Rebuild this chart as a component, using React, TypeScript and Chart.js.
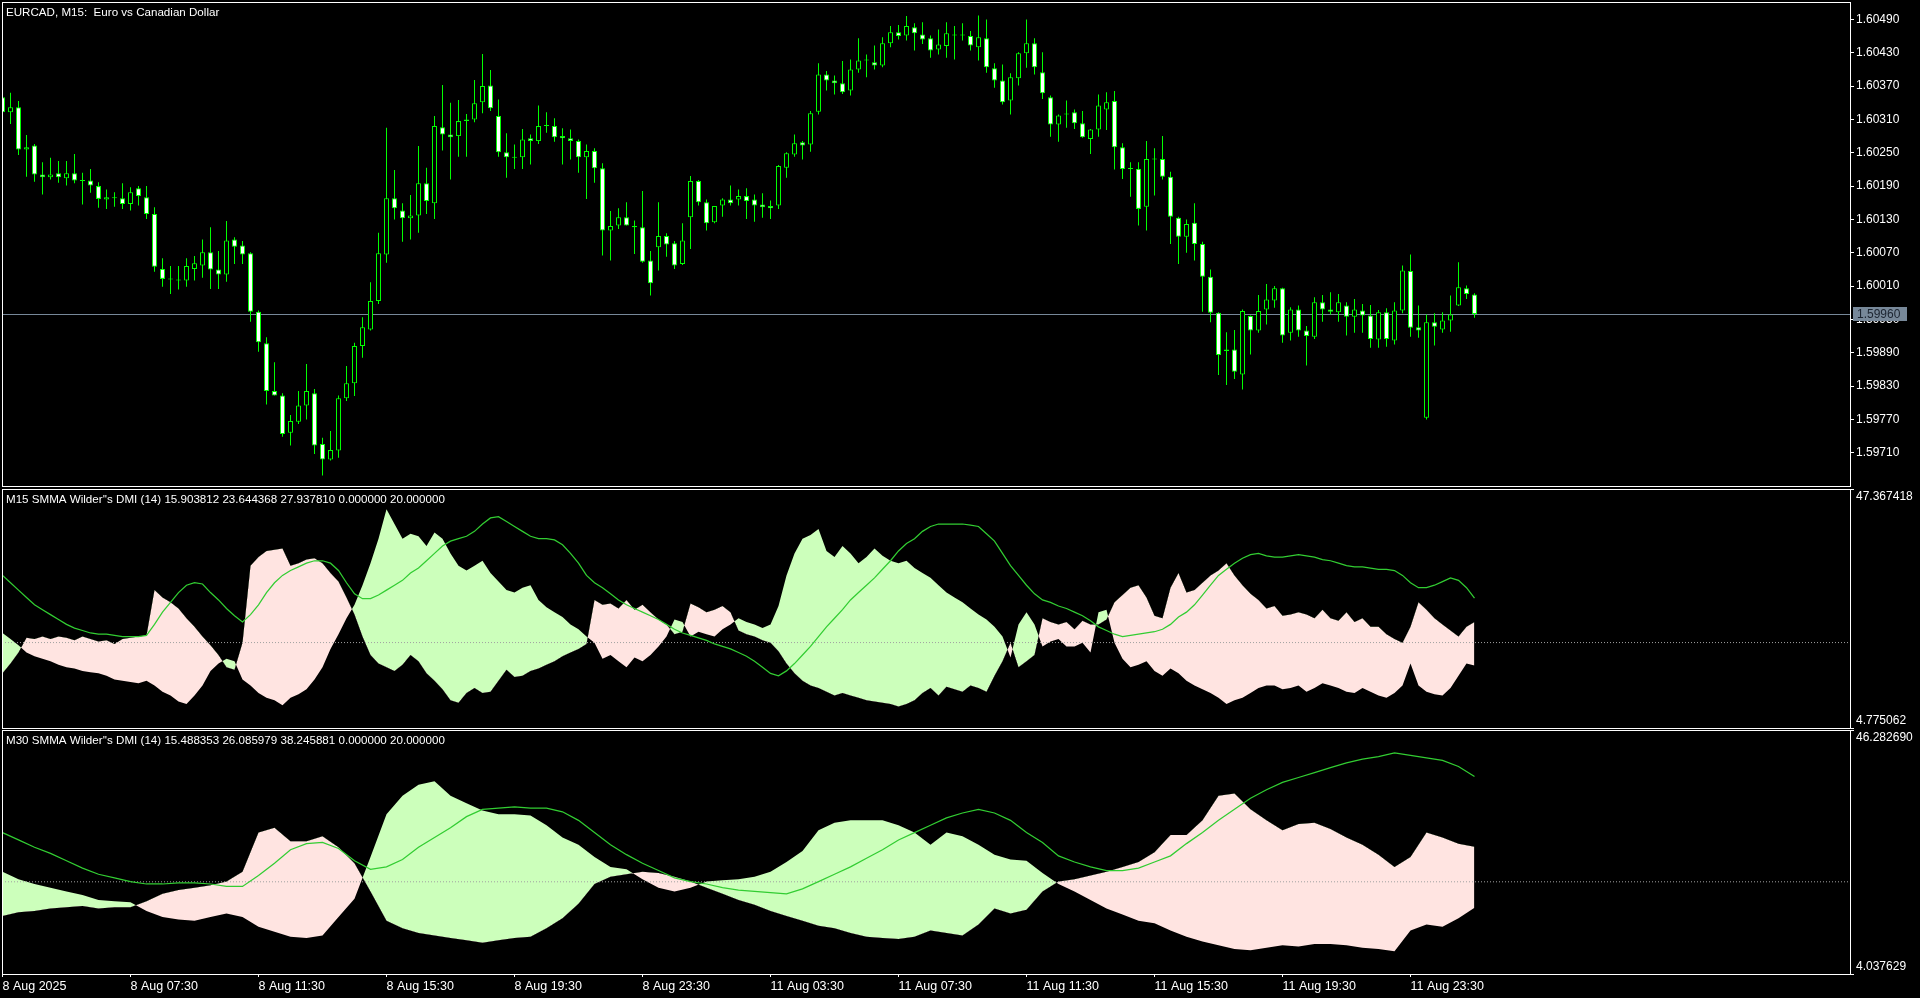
import React, { useEffect, useRef } from 'react';
import { Chart, registerables } from 'chart.js';

Chart.register(...registerables);

const FONT = "'Liberation Sans', Arial, sans-serif";
const LIME = '#00ff00';
const X_MIN = -0.0625;
const X_MAX = 230.9375;

// ---------- EURCAD M15 candles ----------
const opens = [1.60350,1.60323,1.60332,1.60256,1.60263,1.60211,1.60206,1.60213,1.60204,1.60213,1.60200,1.60200,1.60190,1.60166,1.60170,1.60168,1.60158,1.60186,1.60170,1.60140,1.60041,1.60023,1.60022,1.60020,1.60041,1.60047,1.60071,1.60040,1.60031,1.60094,1.60083,1.60069,1.59964,1.59907,1.59821,1.59813,1.59746,1.59766,1.59795,1.59817,1.59726,1.59698,1.59714,1.59808,1.59835,1.59902,1.59932,1.59983,1.60067,1.60168,1.60146,1.60132,1.60137,1.60195,1.60159,1.60296,1.60283,1.60280,1.60307,1.60310,1.60341,1.60371,1.60316,1.60251,1.60242,1.60242,1.60276,1.60271,1.60298,1.60298,1.60280,1.60276,1.60271,1.60242,1.60253,1.60222,1.60110,1.60119,1.60134,1.60118,1.60116,1.60056,1.60080,1.60100,1.60087,1.60050,1.60134,1.60199,1.60161,1.60125,1.60155,1.60166,1.60166,1.60172,1.60166,1.60157,1.60154,1.60155,1.60223,1.60247,1.60269,1.60265,1.60324,1.60391,1.60380,1.60375,1.60362,1.60400,1.60416,1.60413,1.60407,1.60447,1.60467,1.60461,1.60476,1.60463,1.60456,1.60436,1.60442,1.60463,1.60461,1.60460,1.60440,1.60456,1.60402,1.60380,1.60344,1.60384,1.60429,1.60447,1.60395,1.60350,1.60301,1.60320,1.60323,1.60303,1.60275,1.60292,1.60328,1.60343,1.60260,1.60221,1.60221,1.60153,1.60239,1.60239,1.60207,1.60133,1.60099,1.60124,1.60086,1.60027,1.59962,1.59893,1.59896,1.59851,1.59956,1.59930,1.59968,1.59984,1.60006,1.59926,1.59968,1.59930,1.59919,1.59981,1.59968,1.59963,1.59975,1.59955,1.59966,1.59957,1.59914,1.59963,1.59912,1.59966,1.60037,1.59936,1.59773,1.59945,1.59932,1.59948,1.59975,1.60006,1.59995];
const highs = [1.60354,1.60358,1.60343,1.60282,1.60266,1.60233,1.60241,1.60235,1.60235,1.60248,1.60214,1.60221,1.60197,1.60184,1.60179,1.60195,1.60188,1.60190,1.60190,1.60152,1.60060,1.60046,1.60046,1.60060,1.60064,1.60094,1.60116,1.60073,1.60127,1.60098,1.60091,1.60071,1.59966,1.59918,1.59873,1.59817,1.59778,1.59821,1.59870,1.59825,1.59737,1.59749,1.59813,1.59866,1.59908,1.59954,1.60017,1.60106,1.60295,1.60219,1.60159,1.60174,1.60262,1.60223,1.60316,1.60372,1.60340,1.60345,1.60320,1.60381,1.60428,1.60399,1.60346,1.60285,1.60265,1.60293,1.60283,1.60335,1.60323,1.60312,1.60294,1.60292,1.60274,1.60265,1.60258,1.60231,1.60145,1.60150,1.60161,1.60128,1.60181,1.60073,1.60161,1.60105,1.60091,1.60123,1.60208,1.60201,1.60166,1.60154,1.60168,1.60191,1.60184,1.60186,1.60175,1.60177,1.60164,1.60228,1.60251,1.60283,1.60271,1.60325,1.60411,1.60397,1.60389,1.60415,1.60418,1.60456,1.60427,1.60443,1.60458,1.60478,1.60480,1.60496,1.60483,1.60485,1.60461,1.60472,1.60485,1.60478,1.60483,1.60469,1.60497,1.60490,1.60411,1.60409,1.60393,1.60431,1.60490,1.60456,1.60431,1.60353,1.60319,1.60344,1.60328,1.60325,1.60293,1.60355,1.60359,1.60361,1.60267,1.60233,1.60233,1.60271,1.60258,1.60280,1.60216,1.60135,1.60130,1.60159,1.60090,1.60040,1.59963,1.59927,1.59931,1.59968,1.59957,1.59994,1.60014,1.60010,1.60007,1.59972,1.59975,1.59938,1.59990,1.59994,1.59999,1.59996,1.59981,1.59987,1.59978,1.59976,1.59967,1.59970,1.59981,1.60047,1.60067,1.59975,1.59959,1.59961,1.59963,1.59993,1.60053,1.60011,1.59997];
const lows = [1.60318,1.60302,1.60246,1.60207,1.60198,1.60175,1.60202,1.60196,1.60191,1.60195,1.60157,1.60178,1.60151,1.60149,1.60153,1.60149,1.60146,1.60155,1.60131,1.60036,1.60009,1.59996,1.60004,1.60009,1.60020,1.60025,1.60005,1.60005,1.60018,1.60050,1.60050,1.59946,1.59892,1.59797,1.59813,1.59739,1.59723,1.59762,1.59770,1.59708,1.59669,1.59696,1.59701,1.59803,1.59812,1.59881,1.59930,1.59978,1.60052,1.60130,1.60090,1.60094,1.60106,1.60140,1.60131,1.60254,1.60202,1.60243,1.60243,1.60305,1.60321,1.60325,1.60243,1.60205,1.60221,1.60221,1.60229,1.60266,1.60286,1.60270,1.60229,1.60238,1.60214,1.60167,1.60196,1.60065,1.60056,1.60113,1.60119,1.60068,1.60052,1.59993,1.60038,1.60063,1.60041,1.60048,1.60077,1.60155,1.60110,1.60123,1.60135,1.60155,1.60155,1.60131,1.60126,1.60133,1.60131,1.60149,1.60205,1.60243,1.60238,1.60252,1.60319,1.60362,1.60355,1.60356,1.60353,1.60394,1.60386,1.60400,1.60404,1.60440,1.60454,1.60452,1.60434,1.60446,1.60421,1.60427,1.60421,1.60418,1.60452,1.60434,1.60416,1.60394,1.60367,1.60337,1.60319,1.60371,1.60403,1.60391,1.60347,1.60279,1.60270,1.60295,1.60293,1.60277,1.60248,1.60279,1.60291,1.60220,1.60203,1.60171,1.60119,1.60110,1.60173,1.60202,1.60086,1.60050,1.60070,1.60056,1.59964,1.59945,1.59850,1.59832,1.59843,1.59824,1.59887,1.59926,1.59941,1.59971,1.59908,1.59912,1.59919,1.59867,1.59915,1.59946,1.59959,1.59946,1.59921,1.59926,1.59926,1.59899,1.59899,1.59901,1.59905,1.59961,1.59919,1.59917,1.59770,1.59903,1.59926,1.59928,1.59974,1.59987,1.59953];
const closes = [1.60323,1.60332,1.60256,1.60260,1.60211,1.60206,1.60211,1.60206,1.60213,1.60200,1.60199,1.60191,1.60167,1.60170,1.60168,1.60158,1.60179,1.60172,1.60140,1.60045,1.60023,1.60022,1.60020,1.60046,1.60051,1.60071,1.60040,1.60031,1.60092,1.60081,1.60067,1.59964,1.59909,1.59821,1.59813,1.59744,1.59767,1.59795,1.59821,1.59723,1.59698,1.59715,1.59808,1.59835,1.59902,1.59936,1.59983,1.60069,1.60168,1.60150,1.60132,1.60137,1.60195,1.60163,1.60298,1.60283,1.60278,1.60307,1.60310,1.60339,1.60370,1.60330,1.60251,1.60242,1.60241,1.60274,1.60271,1.60298,1.60298,1.60278,1.60276,1.60271,1.60242,1.60253,1.60222,1.60110,1.60118,1.60134,1.60119,1.60116,1.60054,1.60015,1.60100,1.60085,1.60047,1.60092,1.60199,1.60161,1.60123,1.60154,1.60166,1.60159,1.60172,1.60163,1.60155,1.60152,1.60150,1.60226,1.60249,1.60267,1.60263,1.60321,1.60391,1.60380,1.60375,1.60359,1.60400,1.60416,1.60418,1.60407,1.60447,1.60467,1.60460,1.60478,1.60465,1.60454,1.60434,1.60445,1.60465,1.60461,1.60461,1.60443,1.60458,1.60404,1.60380,1.60341,1.60386,1.60429,1.60447,1.60404,1.60357,1.60301,1.60317,1.60319,1.60303,1.60278,1.60292,1.60335,1.60341,1.60260,1.60221,1.60221,1.60149,1.60239,1.60238,1.60207,1.60135,1.60099,1.60122,1.60086,1.60027,1.59962,1.59886,1.59896,1.59856,1.59965,1.59930,1.59965,1.59986,1.60006,1.59921,1.59968,1.59930,1.59920,1.59981,1.59968,1.59964,1.59981,1.59955,1.59968,1.59957,1.59915,1.59963,1.59915,1.59966,1.60038,1.59935,1.59930,1.59945,1.59937,1.59948,1.59959,1.60008,1.59996,1.59960];

const priceTicks = [1.6049, 1.6043, 1.6037, 1.6031, 1.6025, 1.6019, 1.6013, 1.6007, 1.6001, 1.5995, 1.5989, 1.5983, 1.5977, 1.5971];
const priceMin = 1.596502;
const priceMax = 1.605214;

const timeTickBars = [0, 16, 32, 48, 64, 80, 96, 112, 128, 144, 160, 176];
const timeTickLabels = ['8 Aug 2025', '8 Aug 07:30', '8 Aug 11:30', '8 Aug 15:30', '8 Aug 19:30', '8 Aug 23:30', '11 Aug 03:30', '11 Aug 07:30', '11 Aug 11:30', '11 Aug 15:30', '11 Aug 19:30', '11 Aug 23:30'];

// ---------- M15 DMI (one value per chart bar) ----------
const m15Plus = [
  21.71,20.62,19.53,18.22,17.57,17.13,16.69,16.04,15.60,15.38,
  14.95,14.73,14.51,14.07,13.42,13.20,12.98,12.77,13.20,12.33,
  11.24,10.58,9.49,9.05,10.58,12.33,14.95,16.26,17.13,16.69,
  13.42,12.33,11.02,10.15,9.71,8.84,10.15,10.80,11.67,13.42,
  15.60,18.87,21.49,24.33,26.73,30.22,34.15,38.51,43.75,41.13,
  38.51,39.38,38.95,37.20,39.60,38.51,35.89,33.71,32.84,33.71,
  34.58,32.40,30.87,29.35,28.91,29.78,30.22,27.60,26.29,25.42,
  24.55,23.24,22.37,21.06,19.97,17.13,17.78,16.69,15.60,17.35,
  16.69,17.78,19.31,21.06,24.11,23.67,21.06,21.93,21.49,21.06,
  22.37,23.24,24.33,23.67,23.24,22.58,23.24,26.51,31.97,35.89,
  38.51,39.17,40.26,36.33,35.24,37.20,35.89,34.15,35.24,36.77,
  35.46,34.58,34.15,34.58,33.28,32.40,31.53,30.22,28.91,28.04,
  27.17,26.07,24.98,24.11,22.80,21.06,17.35,23.24,25.42,23.24,
  19.31,20.18,20.62,19.31,19.31,19.97,18.22,25.42,25.86,19.97,
  17.13,15.60,16.04,16.69,14.95,14.07,15.38,14.51,13.20,12.33,
  11.67,11.02,10.15,9.05,9.71,10.15,11.02,11.89,12.33,12.33,
  11.67,11.89,12.33,11.24,11.89,12.77,12.33,11.89,11.24,11.02,
  11.89,11.24,10.58,10.15,11.02,12.33,16.26,12.33,11.24,10.80,
  10.58,11.89,14.07,16.26,15.903812,
];
const m15Minus = [
  14.51,16.26,18.22,20.84,20.62,21.06,20.62,21.06,20.84,20.40,
  21.06,20.62,20.18,20.40,19.75,20.62,20.84,21.06,21.27,29.35,
  28.04,27.17,26.07,24.33,22.80,21.06,19.53,17.78,15.60,15.17,
  19.97,33.71,35.24,36.33,36.55,36.77,33.71,34.15,34.80,35.02,
  34.15,32.40,30.87,28.04,24.98,21.06,17.78,16.26,15.60,14.95,
  16.04,17.78,16.69,14.51,13.20,11.67,9.71,9.27,11.02,11.89,
  11.02,11.24,13.20,15.17,13.86,14.07,14.95,15.38,16.04,16.69,
  17.57,18.22,18.87,19.75,27.60,26.73,26.95,26.07,27.60,25.86,
  26.73,25.42,24.11,23.24,21.49,21.93,26.95,26.29,25.42,25.86,
  26.51,25.42,22.15,21.49,21.06,20.40,19.97,18.44,16.26,14.51,
  13.20,12.33,11.89,11.24,10.58,11.02,10.58,10.15,9.71,9.49,
  9.27,9.05,8.62,9.05,9.71,11.02,11.89,10.58,12.11,11.67,
  11.24,12.33,11.89,11.24,14.07,16.69,19.97,15.60,16.69,17.78,
  24.33,23.67,23.24,23.67,22.37,23.89,23.24,23.24,24.11,27.17,
  28.47,29.78,30.22,28.04,24.77,24.33,29.78,32.40,28.91,29.35,
  30.66,31.97,32.84,34.15,31.97,30.22,28.69,27.60,26.07,26.51,
  24.77,24.98,25.42,24.98,24.33,25.86,24.33,23.89,25.42,23.67,
  24.33,22.80,22.80,21.49,20.62,19.97,22.80,27.17,25.86,24.33,
  23.24,22.15,21.06,22.80,23.644368,
];
const m15Adx = [
  31.97,30.66,29.35,28.04,26.73,25.86,24.98,24.11,23.24,22.58,
  22.15,21.71,21.49,21.49,21.27,21.06,21.06,21.06,21.27,23.24,
  25.42,27.17,28.91,30.22,30.66,30.44,28.91,27.60,26.07,24.77,
  23.67,24.98,26.73,28.91,30.66,31.97,32.84,33.49,34.15,34.58,
  34.58,34.15,32.84,30.66,28.69,27.82,27.82,28.47,29.35,30.22,
  31.09,32.40,33.28,34.58,35.89,37.20,38.08,38.51,38.95,39.82,
  41.13,42.22,42.44,41.57,40.69,39.82,38.95,38.51,38.51,38.29,
  37.42,35.89,34.15,31.97,30.66,29.78,28.69,27.60,26.73,26.07,
  25.42,24.77,24.11,23.24,22.37,21.71,21.27,20.84,20.40,19.75,
  19.31,18.87,18.22,17.57,16.69,15.60,14.51,14.07,14.95,16.26,
  17.78,19.31,21.06,22.80,24.33,25.86,27.60,28.91,30.22,31.53,
  33.06,34.58,36.33,37.64,38.51,39.82,40.69,41.13,41.13,41.13,
  41.13,40.91,40.69,39.38,38.08,35.89,33.71,31.97,30.22,28.69,
  27.60,27.17,26.51,26.07,25.42,24.77,23.89,22.80,22.15,21.49,
  21.06,21.27,21.49,21.71,21.93,22.37,23.24,24.55,25.42,26.73,
  28.47,30.22,31.97,33.06,34.15,35.02,35.68,35.89,35.46,35.24,
  35.24,35.46,35.68,35.46,35.24,34.80,34.58,34.15,33.71,33.49,
  33.49,33.28,33.06,33.06,32.84,31.97,30.66,29.78,29.78,30.22,
  30.87,31.53,31.09,29.78,27.93781,
];
const m15Range = [4.775062, 47.367418];

// ---------- M30 DMI (one value per M30 bar = every second chart bar) ----------
const m30Bars = [0,2,4,6,8,10,12,14,16,18,20,22,24,26,28,30,32,34,36,38,40,42,44,46,48,50,52,54,56,58,60,62,64,66,68,70,72,74,76,78,80,82,84,86,88,90,92,94,96,98,100,102,104,106,108,110,112,114,116,118,120,122,124,126,128,130,132,134,136,138,140,142,144,146,148,150,152,154,156,158,160,162,164,166,168,170,172,174,176,178,180,182,184];
const m30Plus = [21.74,20.46,19.62,18.98,18.34,17.71,16.86,16.65,16.44,14.95,13.89,13.47,13.26,13.89,14.53,13.89,12.20,11.35,10.50,10.29,10.71,13.89,17.07,24.28,31.70,34.88,36.79,37.42,34.88,33.61,32.34,31.70,31.70,31.49,29.79,27.67,26.40,24.28,22.58,22.16,20.46,18.98,18.34,18.98,20.04,20.25,20.46,20.89,21.74,23.43,25.34,28.94,30.22,30.64,30.64,30.64,29.79,28.52,26.40,28.52,27.88,26.40,24.70,23.86,23.64,21.52,19.62,18.34,16.86,15.38,14.32,13.26,12.83,11.56,10.50,9.65,9.02,8.38,8.17,8.59,9.02,8.80,9.23,9.23,9.02,8.59,8.38,7.96,11.56,12.62,12.20,13.68,15.488353];
const m30Minus = [14.10,14.74,14.95,15.38,15.59,15.80,15.38,15.59,15.59,16.65,17.92,18.56,18.98,19.40,20.04,21.74,28.52,29.37,27.04,27.04,27.88,25.98,23.22,18.34,13.26,11.98,11.14,10.71,10.29,9.86,9.44,9.86,10.29,10.50,11.98,13.68,16.22,19.62,20.89,21.31,21.74,21.52,20.89,20.04,18.98,17.92,16.86,16.01,14.95,14.10,13.26,12.41,11.98,11.14,10.50,10.29,10.08,10.50,11.56,11.14,10.71,12.62,15.38,14.53,15.16,18.34,20.04,20.46,21.10,21.74,22.58,23.43,25.13,28.10,28.10,30.64,34.88,35.30,32.55,30.64,28.94,30.00,30.22,29.16,27.67,26.40,24.70,22.58,24.28,28.52,27.67,26.61,26.085979];
const m30Adx = [28.52,27.25,25.98,24.92,23.64,22.37,21.31,20.68,20.04,19.62,19.62,19.83,19.83,19.62,19.19,19.19,21.10,23.22,25.55,26.61,26.82,25.76,23.64,22.16,22.58,23.86,25.98,27.67,29.37,31.28,32.55,32.76,32.97,32.76,32.76,32.12,30.64,28.52,26.40,24.70,23.22,21.95,20.68,20.04,19.62,18.98,18.56,18.34,18.13,17.92,18.77,20.04,21.31,22.58,24.07,25.55,27.25,28.52,29.79,31.06,31.91,32.55,31.91,30.64,28.52,26.82,24.49,23.43,22.58,21.95,21.95,22.37,23.43,24.49,26.61,28.52,30.64,32.55,34.46,35.94,37.21,38.06,38.91,39.76,40.60,41.24,41.66,42.30,41.88,41.45,41.03,39.97,38.245881];
const m30Range = [4.037629, 46.28269];

const dmiLevel = 20;

const GREEN_FILL = 'rgb(204,255,187)';
const PINK_FILL = 'rgb(255,228,225)';
const ADX_COLOR = 'rgb(50,205,50)';

const framePlugin = {
  id: 'frame',
  afterDraw(chart: any) {
    const { ctx, chartArea: a } = chart;
    ctx.save();
    ctx.strokeStyle = '#ffffff';
    ctx.lineWidth = 1;
    ctx.strokeRect(Math.round(a.left) + 0.5, Math.round(a.top) + 0.5, Math.round(a.right - a.left), Math.round(a.bottom - a.top));
    ctx.restore();
  },
};

const cornerTitlePlugin = {
  id: 'cornerTitle',
  afterDraw(chart: any, _args: any, opts: any) {
    if (!opts || !opts.text) return;
    const { ctx, chartArea: a } = chart;
    ctx.save();
    ctx.fillStyle = '#ffffff';
    ctx.font = `11.6px ${FONT}`;
    ctx.textBaseline = 'alphabetic';
    ctx.textAlign = 'left';
    ctx.fillText(opts.text, a.left + 4, a.top + opts.dy);
    ctx.restore();
  },
};

const priceLinePlugin = {
  id: 'priceLine',
  beforeDatasetsDraw(chart: any) {
    const { ctx, chartArea: a, scales } = chart;
    const y = Math.round(scales.y.getPixelForValue(closes[closes.length - 1])) + 0.5;
    ctx.save();
    ctx.strokeStyle = '#778899';
    ctx.lineWidth = 1;
    ctx.beginPath();
    ctx.moveTo(a.left, y);
    ctx.lineTo(a.right, y);
    ctx.stroke();
    ctx.restore();
  },
  afterDraw(chart: any) {
    const { ctx, chartArea: a, scales } = chart;
    const last = closes[closes.length - 1];
    const y = Math.round(scales.y.getPixelForValue(last));
    ctx.save();
    ctx.fillStyle = '#778899';
    ctx.fillRect(a.right + 3, y - 7, 54, 14);
    ctx.fillStyle = '#1c2430';
    ctx.font = `12px ${FONT}`;
    ctx.textBaseline = 'middle';
    ctx.textAlign = 'left';
    ctx.fillText(last.toFixed(5), a.right + 7, y + 0.5);
    ctx.restore();
  },
};

function rightAxis(min: number, max: number, ticks: number[], fmt: (v: number, i: number) => any) {
  return {
    type: 'linear',
    position: 'right',
    min,
    max,
    offset: false,
    afterBuildTicks: (s: any) => {
      s.ticks = ticks.map((v) => ({ value: v }));
    },
    afterFit: (s: any) => {
      s.width = 70;
      s.paddingTop = 0;
      s.paddingBottom = 0;
    },
    ticks: {
      color: '#ffffff',
      font: { family: FONT, size: 12 },
      padding: 2,
      autoSkip: false,
      callback: (v: number, i: number) => fmt(v, i),
    },
    grid: { drawOnChartArea: false, drawTicks: true, tickLength: 4, color: '#ffffff', offset: false },
    border: { display: false },
  };
}

function hiddenX() {
  return { type: 'linear', min: X_MIN, max: X_MAX, display: false, offset: false, bounds: 'data', grid: { offset: false } };
}

function mainConfig(): any {
  const idx = closes.map((_, i) => i);
  return {
    type: 'bar',
    data: {
      datasets: [
        {
          label: 'wick',
          data: idx.map((i) => ({ x: i, y: [lows[i], highs[i]] })),
          backgroundColor: LIME,
          borderWidth: 0,
          barThickness: 1,
          grouped: false,
          inflateAmount: 0,
          order: 2,
        },
        {
          label: 'body',
          data: idx.map((i) => ({ x: i, y: [Math.min(opens[i], closes[i]), Math.max(opens[i], closes[i])] })),
          backgroundColor: idx.map((i) => (closes[i] < opens[i] ? '#ffffff' : '#000000')),
          borderColor: LIME,
          borderWidth: 1,
          borderSkipped: false,
          barThickness: 5,
          minBarLength: 1,
          grouped: false,
          inflateAmount: 0,
          order: 1,
        },
      ],
    },
    options: {
      responsive: false,
      animation: false,
      devicePixelRatio: 1,
      events: [],
      layout: { padding: { left: 2, right: 0, top: 2, bottom: 2 } },
      plugins: {
        legend: { display: false },
        tooltip: { enabled: false },
        cornerTitle: { text: 'EURCAD, M15:  Euro vs Canadian Dollar', dy: 14 },
      },
      scales: {
        x: hiddenX(),
        y: rightAxis(priceMin, priceMax, priceTicks, (v) => Number(v).toFixed(5)),
      },
    },
    plugins: [priceLinePlugin, framePlugin, cornerTitlePlugin],
  };
}

function dmiConfig(bars: number[], plus: number[], minus: number[], adx: number[], range: number[], title: string, withX: boolean): any {
  const pts = (arr: number[]) => bars.map((b, k) => ({ x: b, y: arr[k] }));
  const fmt = (v: number, i: number) => (i === 0 ? ['', range[1].toFixed(6)] : [range[0].toFixed(6), '']);
  const xScale: any = withX
    ? {
        type: 'linear',
        min: X_MIN,
        max: X_MAX,
        offset: false,
        position: 'bottom',
        afterBuildTicks: (s: any) => {
          s.ticks = timeTickBars.map((v) => ({ value: v }));
        },
        afterFit: (s: any) => {
          s.height = 24;
          s.paddingLeft = 0;
          s.paddingRight = 0;
        },
        ticks: {
          color: '#ffffff',
          font: { family: FONT, size: 12.5 },
          align: 'start',
          autoSkip: false,
          maxRotation: 0,
          minRotation: 0,
          padding: 2,
          callback: (_v: number, i: number) => timeTickLabels[i],
        },
        grid: { drawOnChartArea: false, drawTicks: true, tickLength: 3, color: '#ffffff' },
        border: { display: false },
      }
    : hiddenX();
  return {
    type: 'line',
    data: {
      datasets: [
        {
          label: '+DI',
          data: pts(plus),
          borderColor: 'rgba(0,0,0,0)',
          borderWidth: 0,
          pointRadius: 0,
          fill: { target: 1, above: GREEN_FILL, below: PINK_FILL },
          order: 3,
        },
        {
          label: '-DI',
          data: pts(minus),
          borderColor: 'rgba(0,0,0,0)',
          borderWidth: 0,
          pointRadius: 0,
          fill: false,
          order: 4,
        },
        {
          label: 'level',
          data: [
            { x: X_MIN, y: dmiLevel },
            { x: X_MAX, y: dmiLevel },
          ],
          borderColor: '#a0a0a0',
          borderWidth: 1,
          borderDash: [1, 2],
          pointRadius: 0,
          fill: false,
          order: 2,
        },
        {
          label: 'ADX',
          data: pts(adx),
          borderColor: ADX_COLOR,
          borderWidth: 1.25,
          pointRadius: 0,
          fill: false,
          order: 1,
        },
      ],
    },
    options: {
      responsive: false,
      animation: false,
      devicePixelRatio: 1,
      events: [],
      layout: { padding: { left: 2, right: 0, top: 1, bottom: withX ? 0 : 1 } },
      plugins: {
        legend: { display: false },
        tooltip: { enabled: false },
        cornerTitle: { text: title, dy: 14 },
      },
      scales: {
        x: xScale,
        y: rightAxis(range[0], range[1], [range[1], range[0]], fmt),
      },
    },
    plugins: [framePlugin, cornerTitlePlugin],
  };
}

export default function App() {
  const refA = useRef<HTMLCanvasElement>(null);
  const refB = useRef<HTMLCanvasElement>(null);
  const refC = useRef<HTMLCanvasElement>(null);

  useEffect(() => {
    document.body.style.margin = '0';
    document.body.style.background = '#000';
    document.body.style.overflow = 'hidden';
    const m15Bars = m15Plus.map((_, i) => i);
    const a = new Chart(refA.current as any, mainConfig());
    const b = new Chart(
      refB.current as any,
      dmiConfig(m15Bars, m15Plus, m15Minus, m15Adx, m15Range, "M15 SMMA Wilder''s DMI (14) 15.903812 23.644368 27.937810 0.000000 20.000000", false)
    );
    const c = new Chart(
      refC.current as any,
      dmiConfig(m30Bars, m30Plus, m30Minus, m30Adx, m30Range, "M30 SMMA Wilder''s DMI (14) 15.488353 26.085979 38.245881 0.000000 20.000000", true)
    );
    return () => {
      a.destroy();
      b.destroy();
      c.destroy();
    };
  }, []);

  return (
    <div style={{ position: 'absolute', left: 0, top: 0, width: 1920, height: 998, background: '#000', overflow: 'hidden' }}>
      <canvas ref={refA} width={1920} height={488} style={{ position: 'absolute', left: 0, top: 0 }} />
      <canvas ref={refB} width={1920} height={241} style={{ position: 'absolute', left: 0, top: 488 }} />
      <canvas ref={refC} width={1920} height={269} style={{ position: 'absolute', left: 0, top: 729 }} />
    </div>
  );
}
